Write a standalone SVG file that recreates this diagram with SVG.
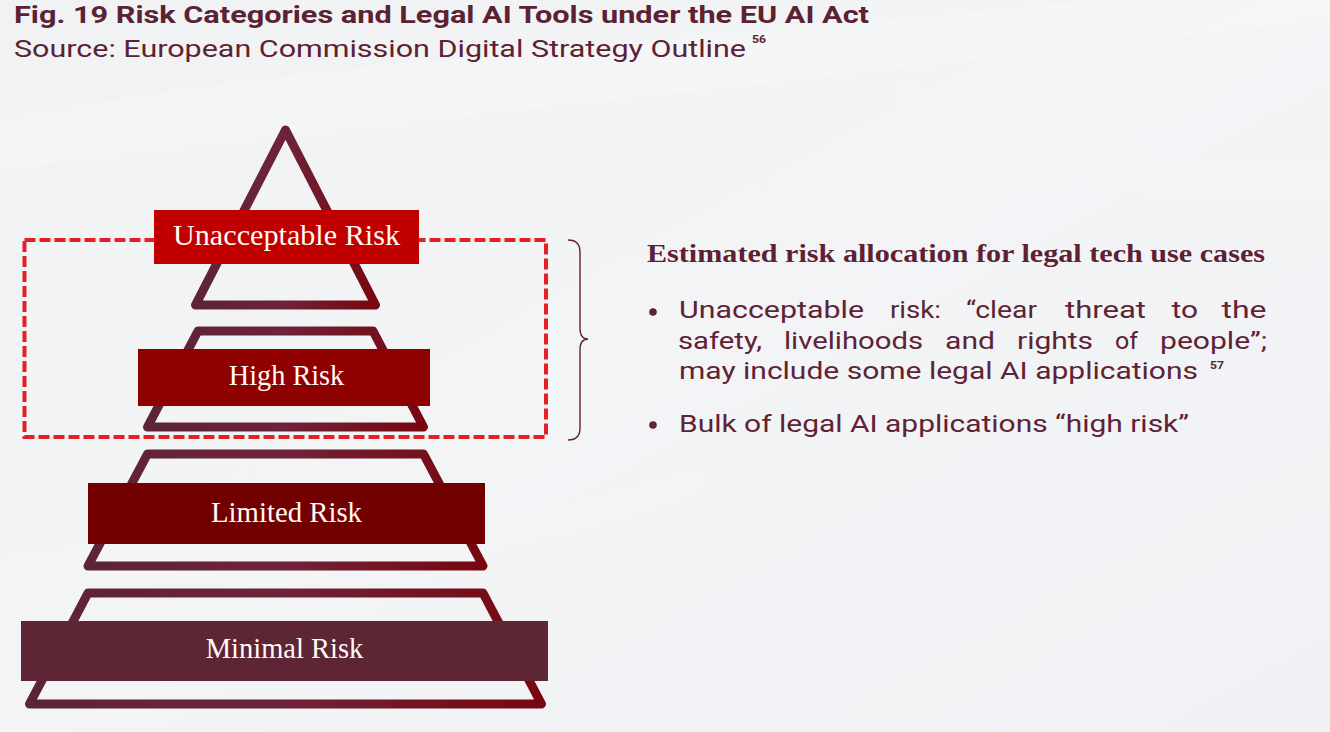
<svg xmlns="http://www.w3.org/2000/svg" width="1330" height="732" viewBox="0 0 1330 732">
  <style>
    .title { font-family: Roboto, "Open Sans", sans-serif; font-weight: 700; font-size: 24px; fill: #5c2233; }
    .sub { font-family: Roboto, "Open Sans", sans-serif; font-weight: 400; font-size: 24px; fill: #5c2233; }
    .sup { font-family: Roboto, "Open Sans", sans-serif; font-weight: 700; font-size: 11px; fill: #5c2233; }
    .lbl { font-family: "Liberation Serif", "Times New Roman", serif; font-size: 29px; fill: #fffaf5; text-anchor: middle; }
    .head { font-family: "Liberation Serif", "Times New Roman", serif; font-weight: 700; font-size: 25px; fill: #5c2233; }
    .body { font-family: Roboto, "Open Sans", sans-serif; font-size: 24px; fill: #5e2335; }
    .tier { fill: none; stroke: url(#edge); stroke-width: 9; stroke-linejoin: round; }
  </style>
  <defs>
    <linearGradient id="edge" x1="0" y1="0" x2="1" y2="0">
      <stop offset="0" stop-color="#5c2436"/>
      <stop offset="0.5" stop-color="#6e2339"/>
      <stop offset="1" stop-color="#78070f"/>
    </linearGradient>
    <linearGradient id="bg" x1="0" y1="0" x2="1" y2="1">
      <stop offset="0" stop-color="#f1f2f4"/>
      <stop offset="0.5" stop-color="#f3f4f6"/>
      <stop offset="1" stop-color="#f0f1f4"/>
    </linearGradient>
  </defs>

  <g id="background">
    <rect x="0" y="0" width="1330" height="732" fill="url(#bg)"/>
    <path d="M0,120 C300,60 700,40 1100,0 L1330,0 L1330,20 C900,70 500,110 0,170 Z" fill="#ffffff" opacity="0.2"/>
    <path d="M0,560 C250,520 420,560 700,470 L700,490 C420,590 250,560 0,600 Z" fill="#ffffff" opacity="0.15"/>
    <path d="M900,80 C1050,150 1200,170 1330,160 L1330,200 C1200,210 1050,190 900,110 Z" fill="#ffffff" opacity="0.15"/>
  </g>

  <g id="header">
    <text class="title" x="14" y="22.5" textLength="855" lengthAdjust="spacingAndGlyphs">Fig. 19 Risk Categories and Legal AI Tools under the EU AI Act</text>
    <text class="sub" x="14" y="57" textLength="732" lengthAdjust="spacingAndGlyphs">Source: European Commission Digital Strategy Outline</text>
    <text class="sup" x="752" y="43" textLength="14" lengthAdjust="spacingAndGlyphs">56</text>
  </g>

  <g id="connectors">
    <rect id="highlight-box" x="24.5" y="240" width="521.5" height="197" fill="none" stroke="#e41f26" stroke-width="4" stroke-dasharray="11 4"/>
    <path id="brace" d="M568,240 Q580,240 580,252 L580,328 Q580,339 588,339 Q580,339 580,350 L580,428 Q580,440 568,440" fill="none" stroke="#5e2335" stroke-width="1.4"/>
  </g>

  <g id="tier-unacceptable">
    <path class="tier" d="M285.5,130 L375.5,305 L195.5,305 Z"/>
    <rect x="154" y="210" width="265" height="54" fill="#c00000"/>
    <text class="lbl" x="286.5" y="245" textLength="227" lengthAdjust="spacingAndGlyphs">Unacceptable Risk</text>
  </g>

  <g id="tier-high">
    <path class="tier" d="M198,331 L373,331 L423.5,427 L147.5,427 Z"/>
    <rect x="138" y="349" width="292" height="57" fill="#8f0000"/>
    <text class="lbl" x="286.5" y="385" textLength="115.5" lengthAdjust="spacingAndGlyphs">High Risk</text>
  </g>

  <g id="tier-limited">
    <path class="tier" d="M147.5,454 L423.5,454 L483,566 L88,566 Z"/>
    <rect x="88" y="483" width="397" height="61" fill="#720000"/>
    <text class="lbl" x="286.5" y="521.5" textLength="151" lengthAdjust="spacingAndGlyphs">Limited Risk</text>
  </g>

  <g id="tier-minimal">
    <path class="tier" d="M88,593 L483,593 L541.5,704 L29.5,704 Z"/>
    <rect x="21" y="621" width="527" height="60" fill="#5e2535"/>
    <text class="lbl" x="284.5" y="658" textLength="157.5" lengthAdjust="spacingAndGlyphs">Minimal Risk</text>
  </g>

  <g id="allocation-text">
    <text class="head" x="647" y="262" textLength="618" lengthAdjust="spacingAndGlyphs">Estimated risk allocation for legal tech use cases</text>
    <circle cx="653" cy="312" r="3.8" fill="#5e2335"/>
    <text class="body" y="317.5">
      <tspan x="679" textLength="185" lengthAdjust="spacingAndGlyphs">Unacceptable</tspan>
      <tspan x="890" textLength="51" lengthAdjust="spacingAndGlyphs">risk:</tspan>
      <tspan x="966" textLength="71" lengthAdjust="spacingAndGlyphs">“clear</tspan>
      <tspan x="1065" textLength="81" lengthAdjust="spacingAndGlyphs">threat</tspan>
      <tspan x="1171.5" textLength="26.5" lengthAdjust="spacingAndGlyphs">to</tspan>
      <tspan x="1221.5" textLength="45" lengthAdjust="spacingAndGlyphs">the</tspan>
    </text>
    <text class="body" y="348.5">
      <tspan x="678" textLength="84" lengthAdjust="spacingAndGlyphs">safety,</tspan>
      <tspan x="784" textLength="139" lengthAdjust="spacingAndGlyphs">livelihoods</tspan>
      <tspan x="945" textLength="50" lengthAdjust="spacingAndGlyphs">and</tspan>
      <tspan x="1017" textLength="76" lengthAdjust="spacingAndGlyphs">rights</tspan>
      <tspan x="1115" textLength="23" lengthAdjust="spacingAndGlyphs">of</tspan>
      <tspan x="1160" textLength="107" lengthAdjust="spacingAndGlyphs">people”;</tspan>
    </text>
    <text class="body" x="679" y="378.5" textLength="519" lengthAdjust="spacingAndGlyphs">may include some legal AI applications</text>
    <text class="sup" x="1210" y="369" textLength="14" lengthAdjust="spacingAndGlyphs">57</text>
    <circle cx="653" cy="425" r="3.8" fill="#5e2335"/>
    <text class="body" x="679" y="431.5" textLength="510" lengthAdjust="spacingAndGlyphs">Bulk of legal AI applications “high risk”</text>
  </g>
</svg>
